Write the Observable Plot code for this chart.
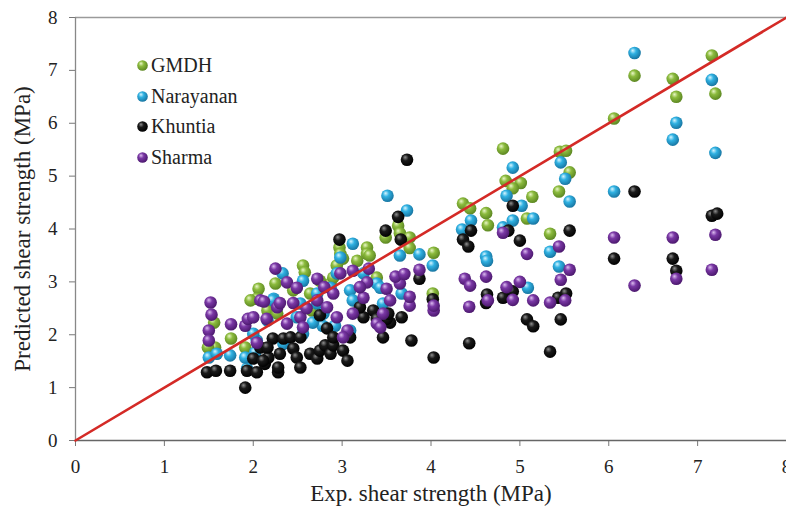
<!DOCTYPE html>
<html><head><meta charset="utf-8">
<script src="https://cdn.jsdelivr.net/npm/d3@7"></script>
<script src="https://cdn.jsdelivr.net/npm/@observablehq/plot@0.6"></script>
<style>
body{margin:0;background:#fff;}
#wrap{position:relative;width:786px;height:508px;overflow:hidden;}
#legend{position:absolute;left:136px;top:50px;font-size:20px;color:#222;}
#legend div{height:30.7px;display:flex;align-items:center;}
#legend svg{margin-right:2px;}
</style></head><body>
<div id="wrap"><div id="legend"></div></div>
<script>
const FONT = '"Liberation Serif", "Times New Roman", Times, "DejaVu Serif", serif';
const seriesNames = ["GMDH", "Narayanan", "Khuntia", "Sharma"];
const seriesColors = [
  ["#eaf7c8", "#8cbb3e", "#5a8520"],
  ["#d6f5ff", "#2fb1e2", "#17739f"],
  ["#909090", "#1a1a1a", "#000000"],
  ["#dcbcf0", "#7a38a5", "#4a176c"]
];
const xTicks = [0, 1, 2, 3, 4, 5, 6, 7, 8];
const yTicks = [0, 1, 2, 3, 4, 5, 6, 7, 8];
const diagonal = [0, 8];
const xTitle = "Exp. shear strength (MPa)";
const yTitle = "Predicted shear strength (MPa)";

const gmdh = [
  [6.06,6.09],[6.29,6.9],[6.72,6.84],[6.76,6.5],[7.16,7.28],[7.2,6.56],
  [4.81,5.52],[5.45,5.46],[5.52,5.48],[5.56,5.07],[4.84,4.91],[5.01,4.87],[4.92,4.77],[5.14,4.61],[5.44,4.71],[5.08,4.2],[5.34,3.91],
  [4.36,4.48],[4.44,4.39],[4.62,4.3],[4.64,4.07],[4.03,3.55],[4.02,2.78],
  [3.63,4.06],[3.65,3.92],[3.49,3.84],[3.76,3.84],[3.76,3.64],
  [2.97,3.65],[3.28,3.65],[3.28,3.53],[3.31,3.5],[3.39,3.08],[2.98,3.53],[3.01,3.44],[2.94,3.31],[3.17,3.4],
  [2.87,2.97],[2.64,2.78],[2.56,3.31],[2.58,3.18],[2.75,3.02],[2.9,3.08],[2.45,2.84],[2.25,2.97],[2.06,2.87],
  [2.04,2.68],[1.97,2.65],[2.16,2.46],[2.27,2.4],[2.66,2.46],[1.56,2.23],[1.57,1.76],[1.75,1.93],[1.91,1.76],[1.49,1.76]
];
const narayanan = [
  [6.29,7.33],[7.16,6.82],[6.76,6.01],[6.72,5.69],[7.2,5.44],[6.06,4.71],
  [4.92,5.16],[5.46,5.26],[5.51,4.95],[4.85,4.63],[5.56,4.52],[5.02,4.44],[5.15,4.2],[4.92,4.16],[4.81,4.03],[5.34,3.57],[5.44,3.29],[5.09,2.89],
  [3.51,4.63],[3.73,4.35],[4.45,4.16],[4.35,3.99],[4.62,3.48],[4.63,3.4],[3.87,3.52],[3.65,3.5],[4.02,3.31],[3.67,2.78],[3.46,2.59],
  [3.12,3.72],[2.98,3.46],[2.33,3.16],[2.56,3.02],[2.23,2.68],[2.53,2.59],[2.72,2.59],[2.94,3.16],[3.09,2.84],[3.24,3.16],[3.39,2.97],
  [2.78,2.17],[2.67,2.23],[2.92,2.17],[2.56,2.02],[3.09,2.08],[2.02,1.66],[2.34,1.83],[2.49,2.33],[2.72,2.78],[3.45,2.4],
  [1.5,1.57],[1.59,1.64],[1.74,1.61],[2.04,1.89],[2.0,2.02],[2.16,2.27],[2.22,2.65],[2.79,2.4],[3.43,2.89],[3.12,2.65],[2.87,2.89],
  [1.93,1.36],[1.91,1.57]
];
const khuntia = [
  [6.29,4.71],[7.16,4.25],[7.22,4.29],[6.06,3.44],[6.72,3.44],[6.76,3.21],
  [4.92,4.44],[4.87,3.97],[5.56,3.97],[5.0,3.78],[4.92,2.82],[4.81,2.7],[5.43,2.7],[5.52,2.78],[5.08,2.29],[5.15,2.16],[5.46,2.29],[5.34,1.68],
  [3.73,5.31],[3.63,4.23],[3.49,3.97],[3.66,3.8],[4.45,3.97],[4.36,3.8],[4.42,3.67],[3.87,3.06],[4.02,2.67],[4.63,2.76],[4.62,2.6],
  [3.67,2.33],[3.54,2.23],[3.5,2.3],[3.46,1.95],[3.78,1.89],[4.43,1.84],[4.03,1.57],
  [2.97,3.8],[1.48,1.29],[1.58,1.32],[1.74,1.32],[1.91,1.0],[1.93,1.32],[2.04,1.29],[2.0,1.55],[2.13,1.45],[2.17,1.57],[2.08,1.76],
  [2.28,1.29],[2.3,1.64],[2.22,1.93],[2.16,1.76],[2.34,1.93],[2.42,1.95],[2.53,1.95],[2.45,1.74],[2.49,1.57],[2.53,1.38],[2.64,1.64],
  [2.72,1.55],[2.75,1.7],[2.81,1.8],[2.87,1.64],[2.9,1.8],[3.01,1.7],[3.06,1.51],[3.09,1.95],[3.52,2.4],[3.35,2.46],[3.24,2.33],
  [3.2,2.52],[2.75,2.37],[2.83,2.12],[2.9,1.95],[3.39,2.3],[2.28,1.38],[2.11,1.51]
];
const sharma = [
  [6.06,3.84],[6.72,3.84],[7.2,3.89],[6.76,3.06],[7.16,3.23],[6.29,2.93],
  [4.81,3.93],[5.44,3.67],[5.08,3.53],[5.56,3.23],[5.46,3.04],[5.0,3.0],[4.85,2.9],[4.92,2.66],[5.15,2.65],[5.34,2.61],[5.51,2.65],
  [4.38,3.06],[4.44,2.93],[4.62,3.1],[4.64,2.65],[4.03,2.46],[4.03,2.55],[4.43,2.53],[3.76,2.55],[3.76,2.72],[3.87,3.23],[3.65,2.97],
  [3.5,2.87],[3.54,2.65],[3.46,2.4],[3.6,3.1],[3.7,3.15],
  [1.52,2.61],[1.53,2.38],[1.5,2.08],[1.5,1.89],[1.75,2.2],[1.91,2.17],[1.94,2.3],[2.25,3.25],[2.38,2.99],[2.49,2.89],[2.72,3.06],
  [2.98,3.16],[3.12,3.21],[3.28,2.99],[2.08,2.65],[2.12,2.63],[2.0,2.33],[2.04,1.85],[2.27,2.52],[2.38,2.21],[2.53,2.33],[2.56,2.14],
  [2.72,2.65],[2.83,2.52],[2.9,2.78],[2.94,2.33],[3.06,2.08],[3.01,1.95],[3.12,2.4],[3.24,2.7],[3.39,2.21],[3.43,2.14],[2.15,2.3],
  [2.3,2.6],[2.6,2.5],[2.8,2.9],[3.2,2.9],[3.3,3.25],[2.45,2.6]
];
const seriesData = [gmdh, narayanan, khuntia, sharma];

const gradId = i => "ball" + i;
const dotMarks = seriesData.map((arr, i) =>
  Plot.dot(arr, {x: d => d[0], y: d => d[1], r: 6.3, fill: `url(#${gradId(i)})`, stroke: "none"})
);

const svg = Plot.plot({
  width: 786, height: 508,
  marginLeft: 75, marginRight: 0, marginTop: 17, marginBottom: 68,
  style: {fontSize: "19px", color: "#222", background: "white", fontFamily: FONT},
  x: {domain: [0, 8], ticks: xTicks, tickSize: 6, tickPadding: 13, label: xTitle, labelArrow: "none", labelAnchor: "center", labelOffset: 60, tickFormat: d => String(d)},
  y: {domain: [0, 8], ticks: yTicks, tickSize: 6, tickPadding: 12, label: yTitle, labelArrow: "none", labelAnchor: "center", labelOffset: 62, tickFormat: d => String(d)},
  marks: [
    Plot.ruleY([yTicks[yTicks.length - 1]], {stroke: "#9a9a9a", strokeWidth: 1.5}),
    ...dotMarks,
    Plot.ruleY([0], {stroke: "#666", strokeWidth: 1.3}),
    Plot.ruleX([0], {stroke: "#888", strokeWidth: 1.3}),
    Plot.line(diagonal, {x: d => d, y: d => d, stroke: "#d42a26", strokeWidth: 2.6})
  ]
});

// sphere-like gradients
const sel = d3.select(svg);
const defs = sel.insert("defs", ":first-child");
seriesColors.forEach((c, i) => {
  const g = defs.append("radialGradient").attr("id", gradId(i))
    .attr("cx", "0.42").attr("cy", "0.4").attr("r", "0.62").attr("fx", "0.35").attr("fy", "0.3");
  g.append("stop").attr("offset", "0%").attr("stop-color", c[0]);
  g.append("stop").attr("offset", "40%").attr("stop-color", c[1]);
  g.append("stop").attr("offset", "100%").attr("stop-color", c[2]);
});
sel.selectAll("g, text").attr("font-family", FONT).style("font-family", FONT);
sel.selectAll('[aria-label$="axis label"] text, [aria-label$="axis label"]').attr("font-size", "23px");
sel.selectAll('[aria-label$="axis label"] text').each(function() {
  this.textContent = this.textContent.replace(/\s*[→↑←↓]\s*/g, "").trim();
});
sel.selectAll('[aria-label$="tick label"] text, [aria-label$="tick label"]').attr("font-size", "19px").style("font-size", "19px");
sel.selectAll('[aria-label$="axis tick"] path, [aria-label$="axis tick"]').attr("stroke", "#777");

document.getElementById("wrap").prepend(svg);

// legend
const legend = d3.select("#legend").style("font-family", FONT);
seriesNames.forEach((name, i) => {
  const row = legend.append("div");
  const s = row.append("svg").attr("width", 13).attr("height", 13);
  s.append("circle").attr("cx", 6.5).attr("cy", 6.5).attr("r", 5.3).attr("fill", `url(#${gradId(i)})`);
  row.append("span").style("font-family", FONT).text(name);
});
</script>
</body></html>
